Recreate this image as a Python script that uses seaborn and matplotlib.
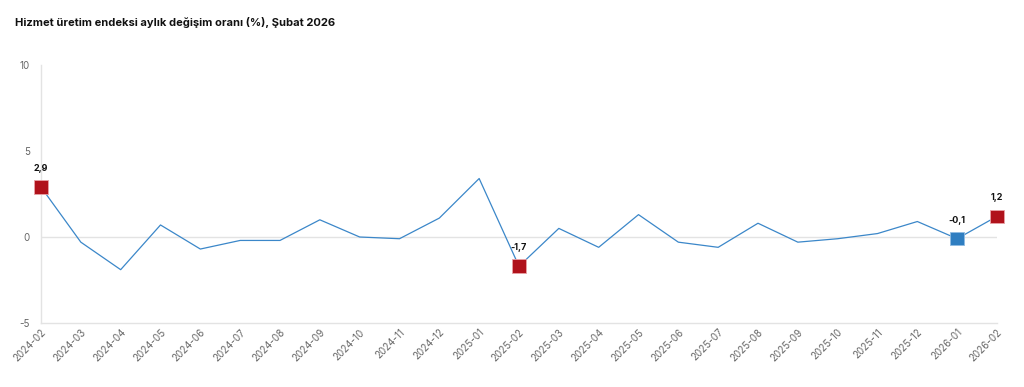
import matplotlib
matplotlib.use("Agg")
import matplotlib.pyplot as plt
import seaborn as sns
import pandas as pd

# Monthly change of services production index (%)
months = [
    "2024-02", "2024-03", "2024-04", "2024-05", "2024-06", "2024-07",
    "2024-08", "2024-09", "2024-10", "2024-11", "2024-12", "2025-01",
    "2025-02", "2025-03", "2025-04", "2025-05", "2025-06", "2025-07",
    "2025-08", "2025-09", "2025-10", "2025-11", "2025-12", "2026-01",
    "2026-02",
]
values = [
    2.9, -0.3, -1.9, 0.7, -0.7, -0.2,
    -0.2, 1.0, 0.0, -0.1, 1.1, 3.4,
    -1.7, 0.5, -0.6, 1.3, -0.3, -0.6,
    0.8, -0.3, -0.1, 0.2, 0.9, -0.1,
    1.2,
]
highlight_months = ["2024-02", "2025-02", "2026-01", "2026-02"]
highlight_kind = ["annual", "annual", "previous", "annual"]

title = "Hizmet üretim endeksi aylık değişim oranı (%), Şubat 2026"

LINE = "#3b87c9"
RED = "#b0121b"
BLUE = "#2f7ec1"
GRAY = "#666666"

df = pd.DataFrame({"month": months, "value": values})
hl = df[df["month"].isin(highlight_months)].copy()
hl["kind"] = highlight_kind

sns.set_style("white")
plt.rcParams["font.family"] = ["Inter", "DejaVu Sans"]

fig = plt.figure(figsize=(10.24, 3.87), dpi=100)
ax = fig.add_axes([41 / 1024, 64 / 387, 956 / 1024, 258 / 387])

sns.lineplot(data=df, x="month", y="value", ax=ax, color=LINE,
             linewidth=0.9, sort=False)
sns.scatterplot(data=hl, x="month", y="value", hue="kind", ax=ax,
                palette={"annual": RED, "previous": BLUE}, marker="s",
                s=95, linewidth=0.6, legend=False, zorder=5)
red_rgb = matplotlib.colors.to_rgb(RED)
for c in ax.collections:
    ec = [("#e8a3a7" if tuple(fc[:3]) == red_rgb else "#8fbbe2")
          for fc in c.get_facecolors()]
    c.set_edgecolors(ec)
    c.set_clip_on(False)

for _, row in hl.iterrows():
    txt = f"{row['value']:.1f}".replace(".", ",")
    ax.annotate(txt, (row["month"], row["value"]), xytext=(0, 10),
                textcoords="offset points", ha="center", va="bottom",
                fontsize=6.5, fontweight="bold", color="#111111")

ax.set_xlim(0, len(months) - 1)
ax.set_ylim(-5, 10)
ax.set_yticks([-5, 0, 5, 10])
ax.set_yticklabels(["-5", "0", "5", "10"])
ax.axhline(0, color="#e3e3e3", linewidth=1, zorder=0)

for side in ["top", "right"]:
    ax.spines[side].set_visible(False)
for side in ["left", "bottom"]:
    ax.spines[side].set_color("#e3e3e3")
    ax.spines[side].set_linewidth(1)

ax.tick_params(axis="y", length=0, pad=8, labelsize=7, labelcolor=GRAY)
ax.tick_params(axis="x", length=0, pad=3, labelsize=7, labelcolor=GRAY)
plt.setp(ax.get_xticklabels(), rotation=45, ha="right", rotation_mode="anchor")
ax.set_xlabel("")
ax.set_ylabel("")

fig.text(15 / 1024, 1 - 23 / 387, title, fontsize=8, fontweight="bold",
         color="#111111", va="center", ha="left")

fig.savefig("out.png", dpi=100, facecolor="white")
